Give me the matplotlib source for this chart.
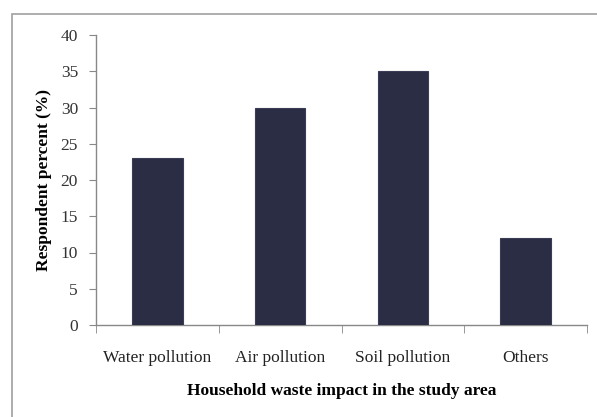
import matplotlib
matplotlib.use("Agg")
import matplotlib.pyplot as plt
from matplotlib.patches import Rectangle

categories = ["Water pollution", "Air pollution", "Soil pollution", "Others"]
values = [23, 30, 35, 12]
yticks = [0, 5, 10, 15, 20, 25, 30, 35, 40]

W, H = 597, 417
fig = plt.figure(figsize=(W / 100, H / 100), dpi=100)
plt.rcParams['font.family'] = ['Liberation Serif', 'DejaVu Serif']

# outer chart border
fig.add_artist(Rectangle((12 / W, 0 - 0.01), 1.0, (H - 14) / H + 0.01,
                         transform=fig.transFigure, fill=False,
                         edgecolor="#a0a0a0", linewidth=1.2))

ax = fig.add_axes([96 / W, 92 / H, (587 - 96) / W, (325 - 35) / H])
x = list(range(len(categories)))
ax.bar(x, values, width=0.41, color="#2b2d45", edgecolor="#3a3d55", linewidth=0.8, zorder=3)
ax.set_xlim(-0.5, len(categories) - 0.5)
ax.set_ylim(0, 40)
ax.set_yticks(yticks)
ax.set_yticklabels([str(v) for v in yticks], fontsize=12.5, color="#333333")
ax.set_xticks(x)
ax.set_xticklabels(categories, fontsize=12.5, color="#222222")
ax.tick_params(axis='x', length=0, pad=18)
ax.tick_params(axis='y', length=5, color="#888888", pad=8)
# category boundary ticks
ax.set_xticks([-0.5, 0.5, 1.5, 2.5, 3.5], minor=True)
ax.tick_params(axis='x', which='minor', length=6, color="#888888", direction='out')
for s in ["top", "right"]:
    ax.spines[s].set_visible(False)
for s in ["left", "bottom"]:
    ax.spines[s].set_color("#888888")
    ax.spines[s].set_linewidth(1.0)
ax.set_ylabel("Respondent percent (%)", fontsize=12.5, fontweight="bold", labelpad=6)
ax.set_xlabel("Household waste impact in the study area", fontsize=12.5, fontweight="bold", labelpad=12)

fig.savefig("out.png", dpi=100)
